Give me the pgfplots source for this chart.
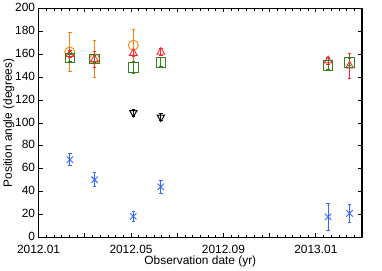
\documentclass[border=0pt]{standalone}
\usepackage{pgfplots}
\pgfplotsset{compat=1.18}
\usepackage{fontspec}
\setmainfont{Liberation Sans}
\definecolor{cOr}{rgb}{1,0.5,0.05}
\definecolor{cRd}{rgb}{1,0.15,0.2}
\definecolor{cGr}{rgb}{0.22,0.5,0.12}
\definecolor{cBl}{rgb}{0.2,0.4,1}
\begin{document}
\begin{tikzpicture}
\begin{axis}[
  scale only axis, width=325bp, height=230bp,
  xmin=0, xmax=14, ymin=0, ymax=200,
  xtick={0,2,...,14},
  xticklabels={2012.01,,2012.05,,2012.09,,2013.01,},
  minor x tick num=5,
  ytick={0,20,...,200},
  tick align=inside,
  major tick length=4bp, minor tick length=2bp,
  axis line style={line width=1.2bp},
  tick style={black, line width=0.8bp},
  /pgf/number format/assume math mode=true,
  ticklabel style={font=\fontsize{12}{14}\selectfont},
  label style={font=\fontsize{12}{14}\selectfont},
  xlabel={Observation date (yr)},
  ylabel={Position angle (degrees)},
  xlabel style={yshift=4.5bp},
  ylabel style={yshift=-6bp},
  xticklabel style={yshift=-4bp},
  yticklabel style={yshift=1bp},
  error bars/error bar style={line width=0.8bp},
  error bars/error mark options={rotate=90, mark size=1.8bp, line width=0.8bp},
]
% orange circles
\addplot[only marks, mark=o, mark size=5bp, color=cOr, line width=0.9bp,
  error bars/.cd, y dir=both, y explicit]
  coordinates {(1.35,162) +- (0,17) (2.42,156) +- (0,16) (4.10,168) +- (0,14)};
% red triangles
\addplot[only marks, mark=triangle, mark size=4.5bp, color=cRd, line width=0.9bp,
  error bars/.cd, y dir=both, y explicit]
  coordinates {(1.35,160) +- (0,3) (2.42,155.5) +- (0,7) (4.10,161) +- (0,3) (5.29,162) +- (0,3) (12.53,154.5) +- (0,3) (13.46,150) +- (0,11)};
% green squares
\addplot[only marks, mark=square, mark size=4.8bp, color=cGr, line width=0.9bp,
  error bars/.cd, y dir=both, y explicit]
  coordinates {(1.35,157) +- (0,3) (2.42,156) +- (0,3) (4.10,148.5) +- (0,5) (5.29,153) +- (0,4) (12.53,150.5) +- (0,4) (13.46,153) +- (0,3)};
% black down triangles
\addplot[only marks, mark=triangle, mark options={rotate=180}, mark size=4.2bp, color=black, line width=1bp,
  error bars/.cd, y dir=both, y explicit]
  coordinates {(4.10,109) +- (0,3) (5.29,105) +- (0,3)};
% blue
\addplot[only marks, mark=x, mark size=4.5bp, color=cBl, line width=0.9bp,
  error bars/.cd, y dir=both, y explicit]
  coordinates {(1.35,68) +- (0,5) (2.42,50.5) +- (0,6) (4.10,18.5) +- (0,4.5) (5.29,44.3) +- (0,5.5) (12.53,18) +- (0,12) (13.46,21) +- (0,7.5)};
\end{axis}
\path (current axis.north east) ++(20bp,0);
\end{tikzpicture}
\end{document}
